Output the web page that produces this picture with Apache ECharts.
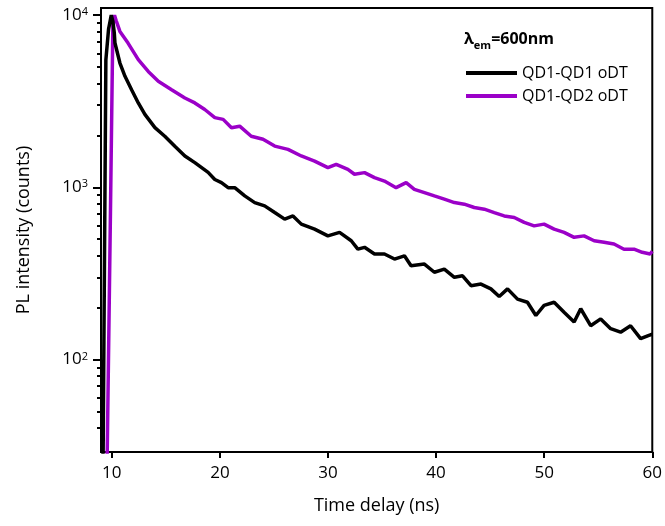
<!DOCTYPE html>
<html>
<head>
<meta charset="utf-8">
<script src="https://cdn.jsdelivr.net/npm/echarts@6.0.0/dist/echarts.min.js"></script>
<style>
  html, body { margin: 0; padding: 0; background: #fff; }
  #chart { width: 665px; height: 526px; }
</style>
</head>
<body>
<div id="chart"></div>
<script>
// 数据
const seriesNames = ['QD1-QD1 oDT', 'QD1-QD2 oDT'];

const blackTime = [9.1, 9.2, 9.45, 9.7, 9.95, 10.1, 10.23, 10.29, 10.75, 11.22, 11.83, 12.45, 13.06, 13.99,
  14.9, 15.83, 16.76, 17.68, 18.91, 19.53, 20.14, 20.76, 21.37, 22.3, 23.22, 24.14, 25.07, 25.99,
  26.76, 27.53, 28.76, 29.99, 31.07, 32.15, 32.76, 33.38, 34.3, 35.22, 36.15, 37.07, 37.68, 38.92,
  39.84, 40.76, 41.69, 42.45, 43.23, 44.15, 45.07, 45.84, 46.61, 47.53, 48.45, 49.23, 49.99, 50.92,
  51.84, 52.77, 53.38, 54.3, 55.23, 56.15, 57.07, 57.99, 58.92, 59.69, 60];
const blackCounts = [20, 30, 5500, 8300, 10000, 9200, 7870, 6890, 5270, 4410, 3690, 3090, 2650, 2220,
  1980, 1730, 1520, 1390, 1220, 1110, 1065, 995, 995, 891, 815, 780, 713, 653,
  682, 611, 571, 522, 547, 489, 437, 448, 410, 410, 383, 400, 350, 358,
  321, 335, 300, 306, 268, 274, 257, 232, 257, 224, 215, 180, 206, 215,
  188, 165, 197, 157, 172, 151, 144, 157, 132, 138, 140];

const purpleTime = [9.5, 9.58, 9.88, 10.1, 10.25, 10.4, 10.75, 11.5, 12.45, 13.37, 14.3, 15.53, 16.76,
  17.68, 18.6, 19.53, 20.3, 21.07, 21.83, 22.9, 23.99, 25.07, 26.3, 27.53, 28.76, 29.99, 30.76,
  31.84, 32.45, 33.38, 34.3, 35.22, 36.3, 37.23, 37.99, 38.92, 39.84, 40.76, 41.69, 42.61, 43.53,
  44.46, 45.38, 46.3, 47.23, 48.15, 49.07, 49.99, 50.92, 51.84, 52.77, 53.69, 54.62, 55.54, 56.46,
  57.38, 58.31, 59.07, 59.8, 60];
const purpleCounts = [20, 30, 760, 9000, 10000, 9300, 8040, 6880, 5510, 4710, 4130, 3690, 3300,
  3090, 2830, 2540, 2480, 2220, 2265, 1980, 1900, 1735, 1660, 1520, 1420, 1300, 1360,
  1270, 1190, 1217, 1138, 1087, 995, 1065, 973, 931, 891, 853, 815, 798, 763,
  746, 713, 682, 668, 625, 597, 611, 571, 547, 512, 522, 489, 479, 468,
  437, 437, 419, 410, 425];

// 坐标轴
const xTicks = [10, 20, 30, 40, 50, 60];
const yMin = 29;
const yMax = 11000;
const yMajor = [100, 1000, 10000];
const yMinor = [40, 50, 60, 70, 80, 90, 200, 300, 400, 500, 600, 700, 800, 900,
  2000, 3000, 4000, 5000, 6000, 7000, 8000, 9000];

const FONT = 'Open Sans';
const colors = ['#000000', '#9b00c8'];

const pairs = (xs, ys) => xs.map((x, i) => [x, ys[i]]);

const chart = echarts.init(document.getElementById('chart'), null, { renderer: 'canvas' });

// 辅助轴：与对数轴相同的映射（log10 空间），只用来画刻度
const helperAxis = (values, len) => ({
  type: 'value',
  position: 'left',
  min: Math.log10(yMin),
  max: Math.log10(yMax),
  axisLine: { show: false },
  splitLine: { show: false },
  axisLabel: { show: false },
  axisTick: {
    show: true,
    inside: false,
    length: len,
    customValues: values.map((v) => Math.log10(v)),
    lineStyle: { color: '#000', width: 2 },
  },
});

const option = {
  animation: false,
  backgroundColor: '#fff',
  textStyle: { fontFamily: FONT },
  title: {
    text: '{b|λ}{sub|em}{b|=600nm}',
    left: 459,
    top: 26,
    textStyle: {
      rich: {
        b: { fontFamily: FONT, fontSize: 16, color: '#000', verticalAlign: 'bottom', padding: [0, 0, 4, 0] },
        sub: { fontFamily: FONT, fontSize: 11, color: '#000', verticalAlign: 'bottom' },
      },
    },
  },
  legend: {
    orient: 'vertical',
    left: 461,
    top: 59,
    icon: 'rect',
    itemWidth: 51,
    itemHeight: 4,
    itemGap: 5,
    data: seriesNames,
    textStyle: { fontFamily: FONT, fontSize: 16, color: '#000', lineHeight: 18, padding: [0, 0, 0, 0] },
  },
  grid: {
    left: 101,
    right: 12,
    top: 8,
    bottom: 74,
    show: true,
    borderColor: '#000',
    borderWidth: 2,
    backgroundColor: 'transparent',
  },
  xAxis: {
    type: 'value',
    min: 9,
    max: 60,
    name: 'Time delay (ns)',
    nameLocation: 'middle',
    nameGap: 45,
    nameTextStyle: { fontFamily: FONT, fontSize: 18, color: '#000' },
    axisLine: { show: true, lineStyle: { color: '#000', width: 2 } },
    axisTick: { show: true, length: 6, customValues: xTicks, lineStyle: { color: '#000', width: 2 } },
    axisLabel: { customValues: xTicks, margin: 13, fontFamily: FONT, fontSize: 17, color: '#000' },
    splitLine: { show: false },
  },
  yAxis: [
    {
      type: 'log',
      logBase: 10,
      min: yMin,
      max: yMax,
      name: 'PL intensity (counts)',
      nameLocation: 'middle',
      nameGap: 68,
      nameTextStyle: { fontFamily: FONT, fontSize: 18, color: '#000' },
      axisLine: { show: true, lineStyle: { color: '#000', width: 2 } },
      axisTick: { show: false },
      splitLine: { show: false },
      axisLabel: {
        margin: 13,
        color: '#000',
        formatter: (v) => {
          const e = Math.log10(v);
          if (Math.abs(e - Math.round(e)) > 1e-6) return '';
          return '{b|10}{sup|' + Math.round(e) + '}';
        },
        rich: {
          b: { fontFamily: FONT, fontSize: 17, color: '#000', verticalAlign: 'top' },
          sup: { fontFamily: FONT, fontSize: 11, color: '#000', verticalAlign: 'top' },
        },
      },
    },
    helperAxis(yMinor, 4),
    helperAxis(yMajor, 8),
  ],
  series: [
    {
      name: seriesNames[0],
      type: 'line',
      data: pairs(blackTime, blackCounts),
      showSymbol: false,
      symbol: 'none',
      clip: true,
      z: 3,
      lineStyle: { color: colors[0], width: 3.5 },
      itemStyle: { color: colors[0] },
    },
    {
      name: seriesNames[1],
      type: 'line',
      data: pairs(purpleTime, purpleCounts),
      showSymbol: false,
      symbol: 'none',
      clip: true,
      z: 2,
      lineStyle: { color: colors[1], width: 3.5 },
      itemStyle: { color: colors[1] },
    },
  ],
};

chart.setOption(option);
</script>
</body>
</html>
